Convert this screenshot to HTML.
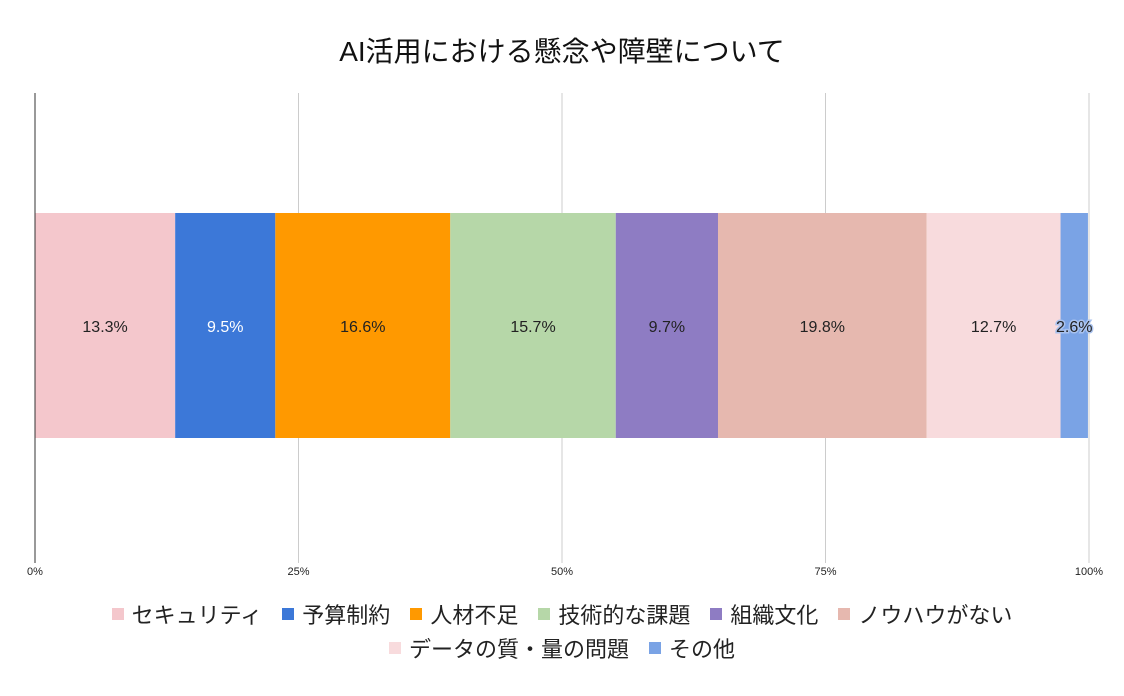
<!DOCTYPE html>
<html><head><meta charset="utf-8">
<style>
body{margin:0;background:#fff;width:1124px;height:696px;overflow:hidden;font-family:"Liberation Sans","Noto Sans CJK JP",sans-serif;}
.legend-row{position:absolute;left:0;width:1124px;display:flex;justify-content:center;gap:20px;font-size:22px;color:#222;}
.item{display:flex;align-items:center;gap:8px;}
.sw{width:12px;height:12px;display:inline-block;}
</style></head><body>
<svg id="chart" width="1124" height="696" style="position:absolute;left:0;top:0">
<text x="562" y="61" text-anchor="middle" font-size="28" fill="#111" font-family="Liberation Sans, Noto Sans CJK JP, sans-serif">AI活用における懸念や障壁について</text>
<g id="grid"></g><g id="bars"></g><g id="labels"></g>
<line x1="35" y1="93" x2="35" y2="563" stroke="#333" stroke-width="1"/>
</svg>
<div class="legend-row" style="top:598px" id="leg1"></div>
<div class="legend-row" style="top:632px" id="leg2"></div>
<script>
const categories=["セキュリティ","予算制約","人材不足","技術的な課題","組織文化","ノウハウがない","データの質・量の問題","その他"];
const values=[13.3,9.5,16.6,15.7,9.7,19.8,12.7,2.6];
const colors=["#f4c7cc","#3c78d8","#ff9900","#b6d7a8","#8e7cc3","#e6b8af","#f8dbdd","#7aa3e5"];
const tickVals=[0,25,50,75,100];
const tickLabels=["0%","25%","50%","75%","100%"];
const NS="http://www.w3.org/2000/svg";
const x=v=>35+v/100*1054;
const grid=document.getElementById('grid'),bars=document.getElementById('bars'),labels=document.getElementById('labels');
tickVals.forEach((t,i)=>{
 if(t>0){const l=document.createElementNS(NS,'line');
 
 
 l.setAttribute('x1',x(t));l.setAttribute('x2',x(t));l.setAttribute('y1',93);l.setAttribute('y2',563);l.setAttribute('stroke','#ccc');grid.appendChild(l);}
 const tx=document.createElementNS(NS,'text');
 
 
 tx.setAttribute('x',x(t));tx.setAttribute('y',575);tx.setAttribute('text-anchor','middle');tx.setAttribute('font-size','11');tx.setAttribute('fill','#222');tx.textContent=tickLabels[i];grid.appendChild(tx);
});
let cum=0;
values.forEach((v,i)=>{
 const r=document.createElementNS(NS,'rect');
 
 
 r.setAttribute('x',x(cum));r.setAttribute('width',x(cum+v)-x(cum));r.setAttribute('y',213);r.setAttribute('height',225);r.setAttribute('fill',colors[i]);bars.appendChild(r);
 const t=document.createElementNS(NS,'text');
 
 
 t.setAttribute('x',x(cum+v/2));t.setAttribute('y',332);t.setAttribute('text-anchor','middle');t.setAttribute('font-size','16');
 t.setAttribute('fill',i==1?'#fff':'#222');
 if(v<5){t.setAttribute('stroke','#a9c2ee');t.setAttribute('stroke-width','3');t.setAttribute('paint-order','stroke');}
 t.textContent=v.toFixed(1)+'%';labels.appendChild(t);
 cum+=v;
});
categories.forEach((c,i)=>{
 const it=document.createElement('div');it.className='item';
 
 
 it.innerHTML='<span class="sw" style="background:'+colors[i]+'"></span><span>'+c+'</span>';
 document.getElementById(i<6?'leg1':'leg2').appendChild(it);
});
</script>
</body></html>
